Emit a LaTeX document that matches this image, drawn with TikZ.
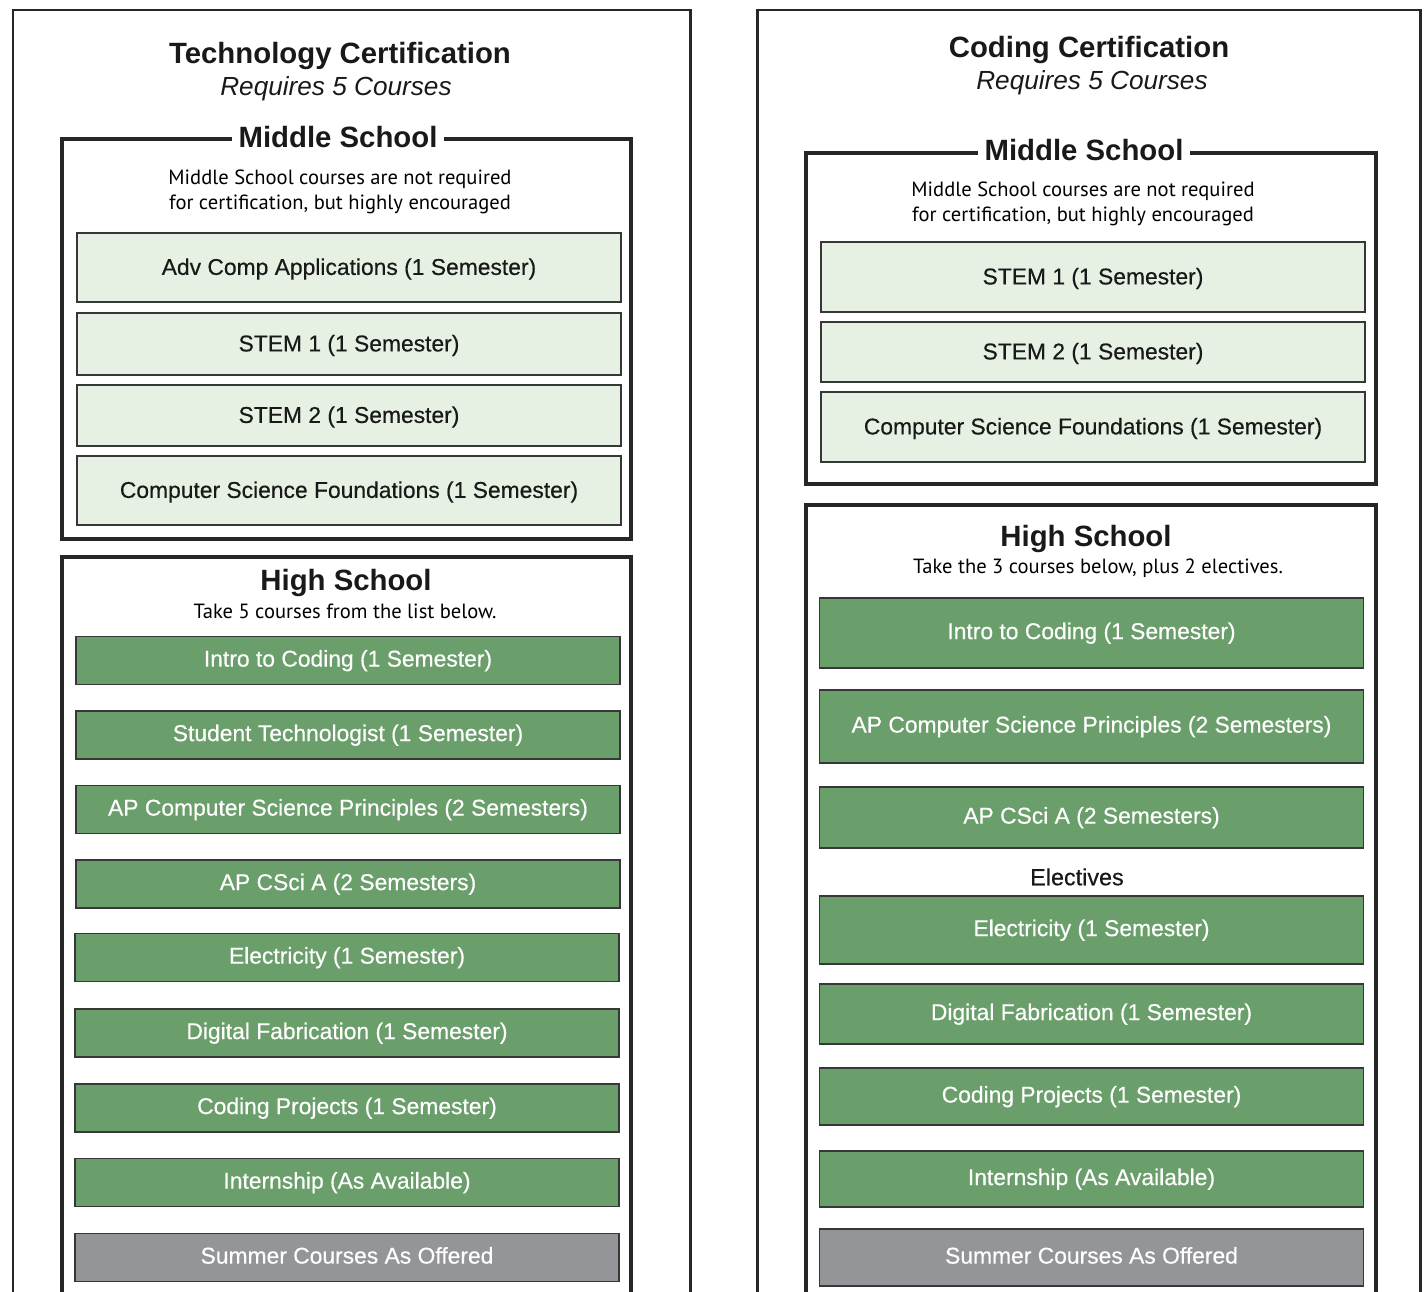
\documentclass[tikz,border=0pt]{standalone}
\usepackage{fontspec}
\setmainfont{Liberation Sans}
\newfontfamily\notefont{PT Sans}
\newfontfamily\coursefont[FakeBold=0.45]{Liberation Sans}
\usepackage{tikz}
\newcommand{\pxu}{0.02cm}
\definecolor{mslight}{RGB}{230,241,228}
\definecolor{hsgreen}{RGB}{106,158,106}
\definecolor{summergray}{RGB}{147,149,152}
\definecolor{boxline}{RGB}{55,55,55}
\tikzstyle{course}=[draw=boxline, line width=0.6pt, inner sep=0, outer sep=0,
                    font=\coursefont\fontsize{13}{15}\selectfont, minimum width=544*\pxu]
\tikzstyle{mscourse}=[course, fill=mslight, text=black!90, text depth=0.1em]
\tikzstyle{hscourse}=[course, fill=hsgreen, text=white]
\tikzstyle{sumcourse}=[course, fill=summergray, text=white]
\tikzstyle{heading}=[font=\fontsize{16.7}{20}\selectfont\bfseries, text=black!90, inner sep=0]
\tikzstyle{subheading}=[font=\fontsize{14.9}{18}\selectfont\itshape, text=black!90, inner sep=0]
\tikzstyle{note}=[font=\notefont\fontsize{11.7}{14.2}\selectfont, align=center, inner sep=0]
\tikzstyle{outerframe}=[line width=1.7pt, draw=black!85]
\tikzstyle{schoolframe}=[line width=2.2pt, draw=black!85]
\tikzstyle{certchart}=[x=\pxu, y=-\pxu,
                       % every box centred on its own text
                       every node/.style={text depth=0.25em}]

\begin{document}
\begin{tikzpicture}[certchart]
        \useasboundingbox (0,0) rectangle (1424,1292);
        \clip (0,0) rectangle (1424,1292);
        % Technology certification
        \draw[outerframe] (13,1300) -- (13,10) -- (690,10) -- (690,1300);
        \node[heading] (techtitle) at (340,55) {Technology Certification};
        \node[subheading] (techreq) at (336,88) {Requires 5 Courses};
        \draw[schoolframe] (62,139) rectangle (631,539);
        \node[heading, fill=white, inner xsep=4pt] (techms) at (338,139) {Middle School};
        \node[note] (technote) at (340,192) {Middle School courses are not required\\for certification, but highly encouraged};
        \node[mscourse, minimum height=69*\pxu] (tms1) at (349,267.5) {Adv Comp Applications (1 Semester)};
        \node[mscourse, minimum height=62*\pxu] (tms2) at (349,344) {STEM 1 (1 Semester)};
        \node[mscourse, minimum height=61*\pxu] (tms3) at (349,415.5) {STEM 2 (1 Semester)};
        \node[mscourse, minimum height=69*\pxu] (tms4) at (349,490.5) {Computer Science Foundations (1 Semester)};
        \draw[schoolframe] (62,1300) -- (62,557) -- (631,557) -- (631,1300);
        \node[heading] (techhs) at (346,582) {High School};
        \node[note] (techtake) at (345,613) {Take 5 courses from the list below.};
        \node[hscourse, minimum height=48*\pxu] (ths1) at (348,660.5) {Intro to Coding (1 Semester)};
        \node[hscourse, minimum height=48*\pxu] (ths2) at (348,735) {Student Technologist (1 Semester)};
        \node[hscourse, minimum height=48*\pxu] (ths3) at (348,809.5) {AP Computer Science Principles (2 Semesters)};
        \node[hscourse, minimum height=48*\pxu] (ths4) at (348,884) {AP CSci A (2 Semesters)};
        \node[hscourse, minimum height=48*\pxu] (ths5) at (347,957.5) {Electricity (1 Semester)};
        \node[hscourse, minimum height=48*\pxu] (ths6) at (347,1033) {Digital Fabrication (1 Semester)};
        \node[hscourse, minimum height=48*\pxu] (ths7) at (347,1108) {Coding Projects (1 Semester)};
        \node[hscourse, minimum height=48*\pxu] (ths8) at (347,1182.5) {Internship (As Available)};
        \node[sumcourse, minimum height=48*\pxu] (ths9) at (347,1257.5) {Summer Courses As Offered};
        % Coding certification
        \draw[outerframe] (757,1300) -- (757,10) -- (1420,10) -- (1420,1300);
        \node[heading] (codetitle) at (1089,49) {Coding Certification};
        \node[subheading] (codereq) at (1092,82) {Requires 5 Courses};
        \draw[schoolframe] (806,153) rectangle (1376,484);
        \node[heading, fill=white, inner xsep=4pt] (codems) at (1084,152) {Middle School};
        \node[note] (codenote) at (1083,204) {Middle School courses are not required\\for certification, but highly encouraged};
        \node[mscourse, minimum height=70*\pxu] (cms1) at (1093,277) {STEM 1 (1 Semester)};
        \node[mscourse, minimum height=60*\pxu] (cms2) at (1093,352) {STEM 2 (1 Semester)};
        \node[mscourse, minimum height=70*\pxu] (cms3) at (1093,427) {Computer Science Foundations (1 Semester)};
        \draw[schoolframe] (806,1300) -- (806,505) -- (1376,505) -- (1376,1300);
        \node[heading] (codehs) at (1086,538) {High School};
        \node[note] (codetake) at (1098,568) {Take the 3 courses below, plus 2 electives.};
        \node[hscourse, minimum height=70*\pxu] (chs1) at (1091.5,633) {Intro to Coding (1 Semester)};
        \node[hscourse, minimum height=73*\pxu] (chs2) at (1091.5,726.5) {AP Computer Science Principles (2 Semesters)};
        \node[hscourse, minimum height=61*\pxu] (chs3) at (1091.5,817.5) {AP CSci A (2 Semesters)};
        \node[font=\coursefont\fontsize{13.3}{15}\selectfont, text=black!90, inner sep=0] (codeelect) at (1077,879) {Electives};
        \node[hscourse, minimum height=68*\pxu] (chs4) at (1091.5,930) {Electricity (1 Semester)};
        \node[hscourse, minimum height=60*\pxu] (chs5) at (1091.5,1014) {Digital Fabrication (1 Semester)};
        \node[hscourse, minimum height=57*\pxu] (chs6) at (1091.5,1096.5) {Coding Projects (1 Semester)};
        \node[hscourse, minimum height=56*\pxu] (chs7) at (1091.5,1179) {Internship (As Available)};
        \node[sumcourse, minimum height=57*\pxu] (chs8) at (1091.5,1257.5) {Summer Courses As Offered};
\end{tikzpicture}
\end{document}
